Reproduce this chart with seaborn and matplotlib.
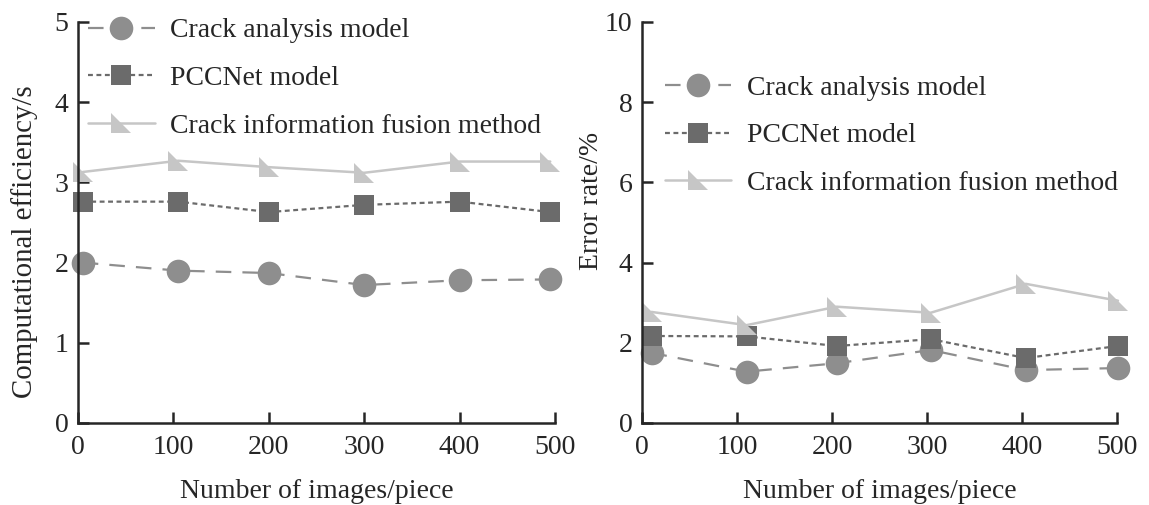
import numpy as np
import pandas as pd
import seaborn as sns
import matplotlib
matplotlib.use("Agg")
import matplotlib.pyplot as plt
from matplotlib.path import Path

sns.set_style("ticks")
plt.rcParams['font.family'] = ['Liberation Serif', 'DejaVu Serif']

series = ["Crack analysis model", "PCCNet model", "Crack information fusion method"]

x_left = [5, 105, 200, 300, 400, 495]
eff_crack = [2.00, 1.90, 1.87, 1.72, 1.78, 1.79]
eff_pcc = [2.76, 2.76, 2.63, 2.72, 2.76, 2.63]
eff_fusion = [3.13, 3.27, 3.19, 3.12, 3.26, 3.26]

x_right = [10, 110, 205, 304, 404, 501]
err_crack = [1.75, 1.28, 1.49, 1.82, 1.32, 1.37]
err_pcc = [2.17, 2.16, 1.92, 2.09, 1.62, 1.92]
err_fusion = [2.77, 2.44, 2.90, 2.75, 3.47, 3.05]

xticks = [0, 100, 200, 300, 400, 500]
left_yticks = [0, 1, 2, 3, 4, 5]
right_yticks = [0, 2, 4, 6, 8, 10]

tri = Path([(-1, 1), (-1, -1), (1, -1), (-1, 1)],
           [Path.MOVETO, Path.LINETO, Path.LINETO, Path.CLOSEPOLY])

styles = {
    series[0]: dict(color="#8e8e8e", marker="o", ms=17, ls=(0, (7, 5)), lw=1.6),
    series[1]: dict(color="#6b6b6b", marker="s", ms=14, ls=(0, (2.2, 1.6)), lw=1.6),
    series[2]: dict(color="#c6c6c6", marker=tri, ms=15, ls="-", lw=1.8),
}

fig = plt.figure(figsize=(11.49, 5.05), dpi=100)
ax1 = fig.add_axes([78/1149, 1-423/505, (555-78)/1149, (423-22)/505])
ax2 = fig.add_axes([642/1149, 1-423/505, (1117-642)/1149, (423-22)/505])

def draw(ax, xs, ys_list):
    for name, ys in zip(series, ys_list):
        st = styles[name]
        df = pd.DataFrame({"x": xs, "y": ys})
        sns.lineplot(data=df, x="x", y="y", ax=ax, color=st["color"],
                     marker=st["marker"], markersize=st["ms"], linestyle=st["ls"],
                     linewidth=st["lw"], markeredgewidth=0, label=name,
                     markerfacecolor=st["color"], clip_on=False)

draw(ax1, x_left, [eff_crack, eff_pcc, eff_fusion])
draw(ax2, x_right, [err_crack, err_pcc, err_fusion])

fs = 20
for ax, yt, ylab, yfs in [(ax1, left_yticks, "Computational efficiency/s", 20.8),
                          (ax2, right_yticks, "Error rate/%", 20)]:
    ax.set_xlim(0, 500)
    ax.set_ylim(yt[0], yt[-1])
    ax.set_xticks(xticks)
    ax.set_yticks(yt)
    ax.tick_params(direction="in", length=8, width=1.8, labelsize=fs)
    ax.tick_params(axis="x", pad=9)
    ax.tick_params(axis="y", pad=7)
    ax.set_xlabel("Number of images/piece", fontsize=fs, labelpad=13)
    ax.set_ylabel(ylab, fontsize=yfs)
    for s in ["top", "right"]:
        ax.spines[s].set_visible(False)
    for s in ["left", "bottom"]:
        ax.spines[s].set_linewidth(1.8)

ax1.yaxis.set_label_coords(-0.083, 0.451)
ax2.yaxis.set_label_coords(-0.081, 0.554)

leg_kw = dict(frameon=False, fontsize=fs, handlelength=2.4, handletextpad=0.55,
              labelspacing=0.8, borderpad=0, borderaxespad=0, loc="upper left")
ax1.legend(bbox_to_anchor=(0.021, 1.01), **leg_kw)
ax2.legend(bbox_to_anchor=(0.048, 0.867), **leg_kw)

fig.savefig("out.png", dpi=100)
